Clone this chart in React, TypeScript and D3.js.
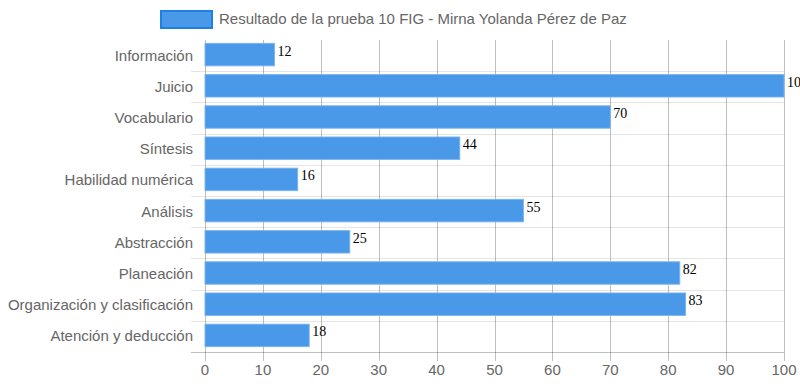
import React from "react";
import * as d3 from "d3";

const categories = [
  "Información",
  "Juicio",
  "Vocabulario",
  "Síntesis",
  "Habilidad numérica",
  "Análisis",
  "Abstracción",
  "Planeación",
  "Organización y clasificación",
  "Atención y deducción",
];
const values = [12, 100, 70, 44, 16, 55, 25, 82, 83, 18];
const xTicks = [0, 10, 20, 30, 40, 50, 60, 70, 80, 90, 100];
const seriesName = "Resultado de la prueba 10 FIG - Mirna Yolanda Pérez de Paz";

const W = 800;
const H = 386;
const left = 205;
const right = 784;
const top = 40;
const bottom = 352;

export default function App() {
  const x = d3.scaleLinear().domain([0, 100]).range([left, right]);
  const y = d3.scaleBand<string>().domain(categories).range([top, bottom]);
  const band = y.bandwidth();
  const barH = band * 0.72;
  const font = "Arial, 'Liberation Sans', Helvetica, sans-serif";
  const barFill = "rgb(74,152,232)";

  return (
    <svg
      width={W}
      height={H}
      style={{ position: "absolute", left: 0, top: 0, display: "block" }}
    >
      <rect x={0} y={0} width={W} height={H} fill="#fff" />
      {/* legend */}
      <rect x={161} y={11} width={51} height={17} fill={barFill} stroke="#1f7fe3" strokeWidth={2} />
      <text x={219} y={24} fontFamily={font} fontSize={15} fill="#666">
        {seriesName}
      </text>

      {/* horizontal grid lines (category boundaries) */}
      {categories.slice(1).map((c) => (
        <line
          key={"h" + c}
          x1={191}
          x2={right}
          y1={Math.round(y(c)!) + 0.5}
          y2={Math.round(y(c)!) + 0.5}
          stroke="rgba(0,0,0,0.1)"
        />
      ))}
      <line x1={191} x2={right} y1={bottom + 0.5} y2={bottom + 0.5} stroke="rgba(0,0,0,0.25)" />

      {/* vertical grid lines */}
      {xTicks.map((t) => (
        <line
          key={"v" + t}
          x1={Math.round(x(t)) + 0.5}
          x2={Math.round(x(t)) + 0.5}
          y1={top}
          y2={bottom + 9}
          stroke="rgba(0,0,0,0.25)"
        />
      ))}

      {/* bars */}
      {categories.map((c, i) => {
        const yc = y(c)! + band / 2;
        return (
          <g key={"b" + c}>
            <rect
              x={x(0)}
              y={yc - barH / 2 - 1}
              width={x(values[i]) - x(0)}
              height={barH}
              fill={barFill}
              stroke="rgba(120,180,240,0.9)"
              strokeWidth={1}
            />
            <text
              x={x(values[i]) + 3}
              y={yc}
              fontFamily="'Liberation Serif', 'Times New Roman', serif"
              fontSize={14}
              fill="#000"
            >
              {values[i]}
            </text>
          </g>
        );
      })}

      {/* y labels */}
      {categories.map((c) => (
        <text
          key={"l" + c}
          x={193}
          y={y(c)! + band / 2 + 5}
          textAnchor="end"
          fontFamily={font}
          fontSize={15}
          fill="#666"
        >
          {c}
        </text>
      ))}

      {/* x tick labels */}
      {xTicks.map((t) => (
        <text
          key={"t" + t}
          x={x(t)}
          y={375}
          textAnchor="middle"
          fontFamily={font}
          fontSize={15}
          fill="#666"
        >
          {t}
        </text>
      ))}
    </svg>
  );
}
